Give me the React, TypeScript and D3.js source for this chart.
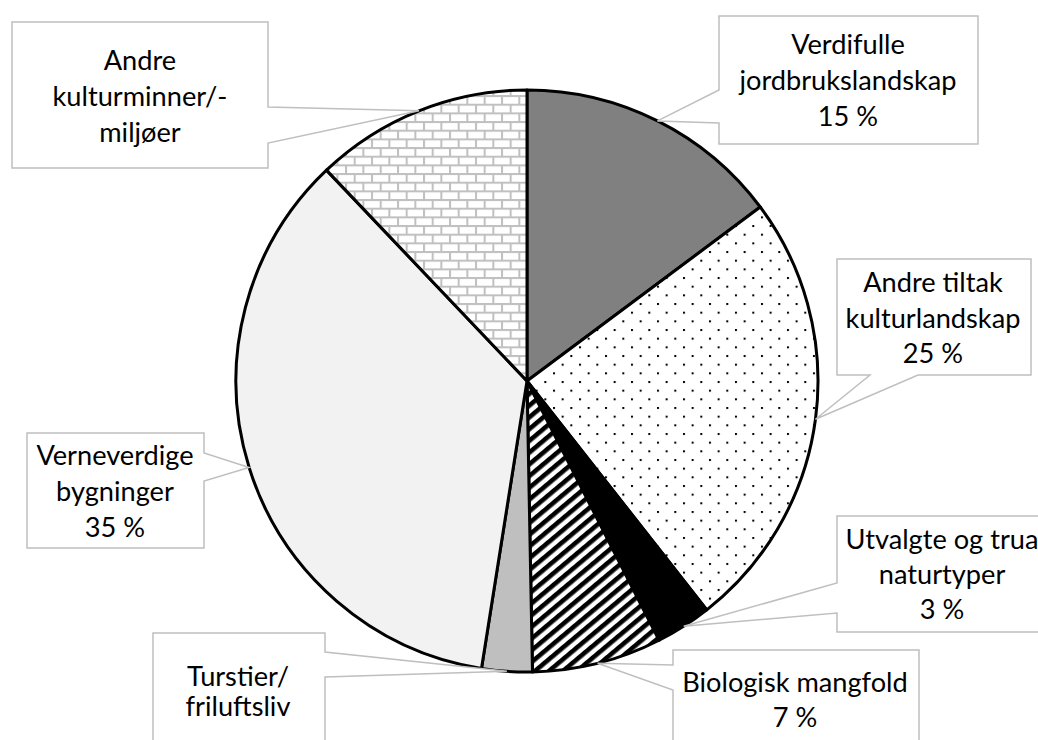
import React from 'react';
import * as d3 from 'd3';

const categories = [
  'Verdifulle jordbrukslandskap',
  'Andre tiltak kulturlandskap',
  'Utvalgte og trua naturtyper',
  'Biologisk mangfold',
  'Turstier/friluftsliv',
  'Verneverdige bygninger',
  'Andre kulturminner/-miljøer',
];
const values = [14.8, 24.6, 3.1, 7.2, 2.8, 35.4, 12.1];
const labelLines = [
  ['Verdifulle', 'jordbrukslandskap'],
  ['Andre tiltak', 'kulturlandskap'],
  ['Utvalgte og trua', 'naturtyper'],
  ['Biologisk mangfold'],
  ['Turstier/', 'friluftsliv'],
  ['Verneverdige', 'bygninger'],
  ['Andre', 'kulturminner/-', 'miljøer'],
];
const showPercent = [true, true, true, true, false, true, false];
const fills = ['#808080', 'url(#dots)', '#000000', 'url(#stripes)', '#bfbfbf', '#f2f2f2', 'url(#bricks)'];

type Box = { x: number; y: number; w: number; h: number; side: 'left' | 'right' | 'bottom'; b1: number; b2: number; tx: number; ty: number; lh: number };
const boxes: Box[] = [
  { x: 719, y: 16, w: 259, h: 128, side: 'left', b1: 90, b2: 123, tx: 848, ty: 54, lh: 36 },
  { x: 837, y: 259, w: 194, h: 116, side: 'bottom', b1: 870, b2: 918, tx: 933, ty: 292, lh: 35.5 },
  { x: 837, y: 516, w: 215, h: 116, side: 'left', b1: 583, b2: 613, tx: 942, ty: 549, lh: 35 },
  { x: 673, y: 650, w: 246, h: 116, side: 'left', b1: 665, b2: 690, tx: 795, ty: 692, lh: 35 },
  { x: 153, y: 633, w: 172, h: 116, side: 'right', b1: 652, b2: 677, tx: 238, ty: 686, lh: 30 },
  { x: 27, y: 433, w: 177, h: 115, side: 'right', b1: 453, b2: 481, tx: 115, ty: 465, lh: 36 },
  { x: 12, y: 22, w: 256, h: 146, side: 'right', b1: 107, b2: 143, tx: 140, ty: 70, lh: 36 },
];

const CX = 527;
const CY = 381;
const R = 291;

function calloutPath(b: Box, tip: [number, number]) {
  const { x, y, w, h, b1, b2 } = b;
  const [tx, ty] = tip;
  if (b.side === 'left') {
    return `M${x},${y}L${x + w},${y}L${x + w},${y + h}L${x},${y + h}L${x},${b2}L${tx},${ty}L${x},${b1}Z`;
  }
  if (b.side === 'right') {
    return `M${x},${y}L${x + w},${y}L${x + w},${b1}L${tx},${ty}L${x + w},${b2}L${x + w},${y + h}L${x},${y + h}Z`;
  }
  return `M${x},${y}L${x + w},${y}L${x + w},${y + h}L${b2},${y + h}L${tx},${ty}L${b1},${y + h}L${x},${y + h}Z`;
}

export default function App() {
  const total = d3.sum(values);
  const pie = d3.pie<number>().sort(null).value((d) => d);
  const arcs = pie(values);
  const arc = d3.arc<d3.PieArcDatum<number>>().innerRadius(0).outerRadius(R);
  const edge = d3.arc<d3.PieArcDatum<number>>().innerRadius(R).outerRadius(R);

  return (
    <svg width={1038} height={740} style={{ position: 'absolute', left: 0, top: 0, background: '#fff' }}
      fontFamily="Lato, 'Open Sans', sans-serif">
      <defs>
        <pattern id="dots" patternUnits="userSpaceOnUse" width={17.33} height={17.33}>
          <rect width={17.33} height={17.33} fill="#fff" />
          <rect x={0} y={0} width={2} height={2} fill="#000" />
          <rect x={8.67} y={8.67} width={2} height={2} fill="#000" />
        </pattern>
        <pattern id="bricks" patternUnits="userSpaceOnUse" width={17.33} height={17.33}>
          <rect width={17.33} height={17.33} fill="#fff" />
          <line x1={0} y1={1} x2={17.33} y2={1} stroke="#c0c0c0" strokeWidth={2} />
          <line x1={0} y1={9.67} x2={17.33} y2={9.67} stroke="#c0c0c0" strokeWidth={2} />
          <line x1={1} y1={0} x2={1} y2={8.67} stroke="#c0c0c0" strokeWidth={2} />
          <line x1={9.67} y1={8.67} x2={9.67} y2={17.33} stroke="#c0c0c0" strokeWidth={2} />
        </pattern>
        <pattern id="stripes" patternUnits="userSpaceOnUse" width={9} height={9} patternTransform="rotate(-40)">
          <rect width={9} height={9} fill="#fff" />
          <rect x={0} y={0} width={9} height={4.6} fill="#000" />
        </pattern>
      </defs>
      <g transform={`translate(${CX},${CY})`}>
        {arcs.map((a, i) => (
          <path key={categories[i]} d={arc(a) || ''} fill={fills[i]} stroke="#000" strokeWidth={3} strokeLinejoin="round" />
        ))}
      </g>
      {arcs.map((a, i) => {
        const c = edge.centroid(a);
        const tip: [number, number] = [CX + c[0], CY + c[1]];
        const b = boxes[i];
        const lines = [...labelLines[i]];
        if (showPercent[i]) lines.push(`${Math.round((values[i] / total) * 100)} %`);
        return (
          <g key={'lbl' + i}>
            <path d={calloutPath(b, tip)} fill="#fff" stroke="#bfbfbf" strokeWidth={1.5} />
            <text textAnchor="middle" fontSize={27.2} fill="#000">
              {lines.map((l, j) => (
                <tspan key={j} x={b.tx} y={b.ty + j * b.lh}>{l}</tspan>
              ))}
            </text>
          </g>
        );
      })}
    </svg>
  );
}
